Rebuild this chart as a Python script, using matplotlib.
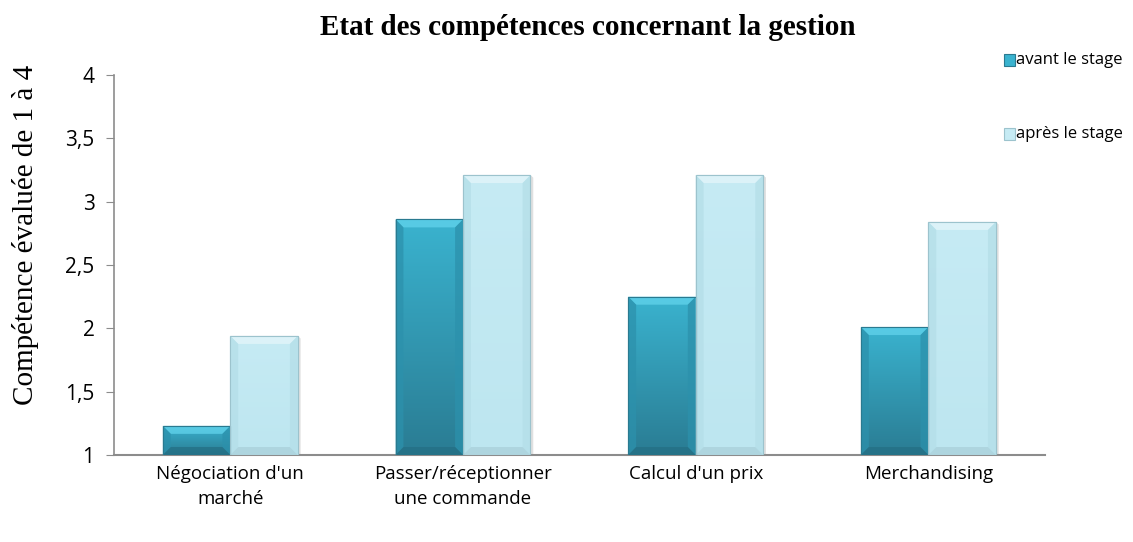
import matplotlib
matplotlib.use("Agg")
import matplotlib.pyplot as plt
import numpy as np
from matplotlib.patches import Polygon, Rectangle
from matplotlib.colors import LinearSegmentedColormap

categories = ["Négociation d'un\nmarché", "Passer/réceptionner\nune commande", "Calcul d'un prix", "Merchandising"]
avant = [1.23, 2.86, 2.25, 2.01]
apres = [1.94, 3.21, 3.21, 2.84]
series_names = ["avant le stage", "après le stage"]
yticks = [1, 1.5, 2, 2.5, 3, 3.5, 4]
ytick_labels = ["1", "1,5", "2", "2,5", "3", "3,5", "4"]

W, H = 1133, 542
fig = plt.figure(figsize=(W/100, H/100), dpi=100)
ax = fig.add_axes([0.1006, 0.1605, 0.8215, 0.7011])

x = np.arange(len(categories))
bw = 0.29

styles = [
    dict(top="#3AB3CF", bot="#2A7C93", bev_top="#62D3EC", bev_side="#2C91AC", bev_bot="#246F84", edge="#2A7A90"),
    dict(top="#C6EBF4", bot="#BDE6F0", bev_top="#E4F6FA", bev_side="#B4DEE8", bev_bot="#A9D0DA", edge="#9CC3CD"),
]

bx = 0.034
by = 0.063
base = 1.0

def draw_bars(xs, vals, st, label):
    bars = ax.bar(xs, [v - base for v in vals], bw, bottom=base, color=st["top"],
                  edgecolor=st["edge"], linewidth=0.8, label=label, zorder=3)
    cmap = LinearSegmentedColormap.from_list("g", [st["bot"], st["top"]])
    grad = np.linspace(0, 1, 256).reshape(-1, 1)
    for b in bars:
        x0, y0, w, h = b.get_x(), b.get_y(), b.get_width(), b.get_height()
        ax.add_patch(Polygon([(x0 + w, y0), (x0 + w + 0.012, y0), (x0 + w + 0.012, y0 + h - 0.02), (x0 + w, y0 + h)],
                             closed=True, facecolor="#000000", alpha=0.12, edgecolor="none", zorder=2))
        im = ax.imshow(grad, extent=[x0, x0 + w, y0, y0 + h], origin="lower", cmap=cmap,
                       aspect="auto", zorder=3.1, interpolation="bicubic")
        im.set_clip_path(b)
        e = min(by, h / 2)
        x1, y1 = x0 + w, y0 + h
        polys = [
            ([(x0, y1), (x1, y1), (x1 - bx, y1 - e), (x0 + bx, y1 - e)], st["bev_top"]),
            ([(x0, y0), (x0, y1), (x0 + bx, y1 - e), (x0 + bx, y0 + e)], st["bev_side"]),
            ([(x1, y0), (x1, y1), (x1 - bx, y1 - e), (x1 - bx, y0 + e)], st["bev_side"]),
            ([(x0, y0), (x1, y0), (x1 - bx, y0 + e), (x0 + bx, y0 + e)], st["bev_bot"]),
        ]
        for pts, c in polys:
            ax.add_patch(Polygon(pts, closed=True, facecolor=c, edgecolor="none", alpha=0.75, zorder=3.2))
        ax.add_patch(Polygon([(x0, y0), (x1, y0), (x1, y1), (x0, y1)], closed=True, facecolor="none",
                             edgecolor=st["edge"], linewidth=0.8, zorder=3.3))
    return bars

draw_bars(x - bw / 2, avant, styles[0], series_names[0])
draw_bars(x + bw / 2, apres, styles[1], series_names[1])

ax.set_xlim(-0.5, len(categories) - 0.5)
ax.set_ylim(1, 4)
ax.set_yticks(yticks)
ax.set_yticklabels(ytick_labels, fontsize=15, family="Open Sans")
ax.set_xticks(x)
ax.set_xticklabels(categories, fontsize=13.5, family="Open Sans", linespacing=1.55)
ax.tick_params(axis="x", length=0, pad=7)
ax.tick_params(axis="y", length=6, direction="out", color="#8C8C8C", pad=8)
for s in ["top", "right"]:
    ax.spines[s].set_visible(False)
ax.spines["left"].set_color("#8C8C8C")
ax.spines["bottom"].set_color("#8C8C8C")
ax.spines["bottom"].set_linewidth(1.5)
ax.spines["left"].set_linewidth(1.2)

ax.set_ylabel("Compétence évaluée de 1 à 4", fontsize=21, family="Liberation Serif")
ax.yaxis.set_label_coords(-0.081, 0.58)
fig.text(0.519, 0.950, "Etat des compétences concernant la gestion", ha="center", va="center",
         fontsize=21, fontweight="bold", family="Liberation Serif")

leg_items = [(0.110, styles[0]), (0.247, styles[1])]
for (yy, st), name in zip(leg_items, series_names):
    yf = 1 - yy
    fig.patches.append(Rectangle((0.886, yf - 0.011), 0.0095, 0.021, transform=fig.transFigure,
                                 facecolor=st["top"], edgecolor=st["edge"], linewidth=0.8))
    fig.text(0.897, yf, name, ha="left", va="center", fontsize=12, family="Open Sans")

fig.savefig("out.png", dpi=100)
